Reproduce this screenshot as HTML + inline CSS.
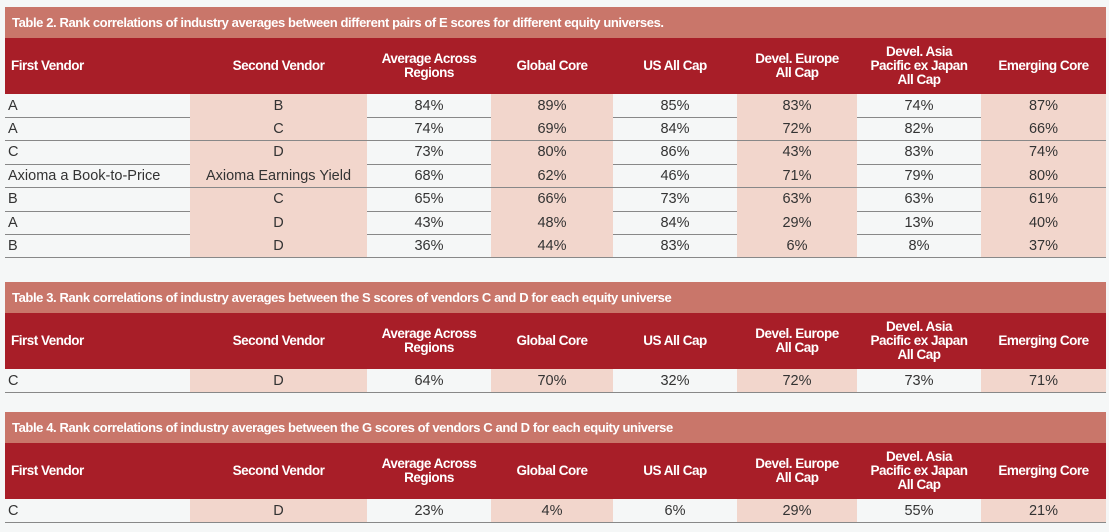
<!DOCTYPE html>
<html><head><meta charset="utf-8">
<style>
body{margin:0;width:1109px;height:532px;background:#f5f7f7;font-family:"Liberation Sans",sans-serif;position:relative;overflow:hidden}
.a{position:absolute;box-sizing:border-box}
.title{background:#c9766a;color:#fff;font-weight:bold;font-size:13px;padding-left:7px;display:flex;align-items:center;letter-spacing:-0.4px}
.hdr{background:#a81e28}
.hc{color:#fff;font-weight:bold;font-size:13.5px;display:flex;align-items:center;justify-content:center;text-align:center;line-height:14px;letter-spacing:-0.5px}
.cell{font-size:14.5px;color:#333;display:flex;align-items:center;justify-content:center}
.shade{background:#f2d6cc}
.line{height:1px;background:#888}
</style></head><body>
<script>
const cols=[5,190,367,491,613,737,857,981,1106];
const shaded=[1,3,5,7];
const headers=["First Vendor","Second Vendor","Average Across<br>Regions","Global Core","US All Cap","Devel. Europe<br>All Cap","Devel. Asia<br>Pacific ex Japan<br>All Cap","Emerging Core"];
const t2Title="Table 2. Rank correlations of industry averages between different pairs of E scores for different equity universes.";
const t3Title="Table 3. Rank correlations of industry averages between the S scores of vendors C and D for each equity universe";
const t4Title="Table 4. Rank correlations of industry averages between the G scores of vendors C and D for each equity universe";
const t2Rows=[
["A","B","84%","89%","85%","83%","74%","87%"],
["A","C","74%","69%","84%","72%","82%","66%"],
["C","D","73%","80%","86%","43%","83%","74%"],
["Axioma a Book-to-Price","Axioma Earnings Yield","68%","62%","46%","71%","79%","80%"],
["B","C","65%","66%","73%","63%","63%","61%"],
["A","D","43%","48%","84%","29%","13%","40%"],
["B","D","36%","44%","83%","6%","8%","37%"]];
const t3Rows=[["C","D","64%","70%","32%","72%","73%","71%"]];
const t4Rows=[["C","D","23%","4%","6%","29%","55%","21%"]];
function mk(cls,x,y,w,h,html,name){
  const d=document.createElement('div');
  d.className='a '+cls;
  d.style.left=x+'px';d.style.top=y+'px';d.style.width=w+'px';d.style.height=h+'px';
  if(html!==undefined)d.innerHTML=html;
  
  
  document.body.appendChild(d);return d;
}
function table(title,rows,top,id){
  const W=cols[8]-cols[0];
  mk('title',cols[0],top,W,31,title,id+'-title');
  mk('hdr',cols[0],top+31,W,56,undefined,id+'-header-row');
  headers.forEach((h,i)=>{
    const c=mk('hc',cols[i],top+31,cols[i+1]-cols[i],56,h,id+'-header-cell');
    if(i===0){c.style.justifyContent='flex-start';c.style.paddingLeft='6px';}
  });
  const rh=23.4;let y=top+87;
  rows.forEach((r,ri)=>{
    r.forEach((v,i)=>{
      const c=mk('cell'+(shaded.includes(i)?' shade':''),cols[i],y,cols[i+1]-cols[i],rh,v,id+'-cell');
      if(i===0){c.style.justifyContent='flex-start';c.style.paddingLeft='3px';}
    });
    y+=rh;
    mk('line',cols[0],y-0.5,W,1,undefined,id+'-row-divider');
  });
}
table(t2Title,t2Rows,7,'table-2');
table(t3Title,t3Rows,282,'table-3');
table(t4Title,t4Rows,412,'table-4');
</script>
</body></html>
